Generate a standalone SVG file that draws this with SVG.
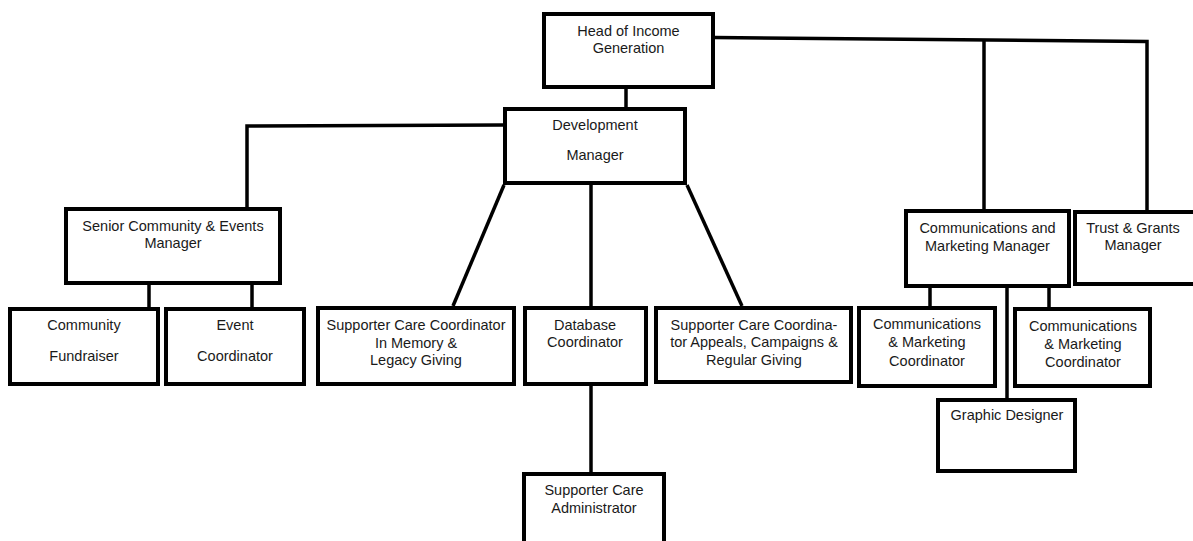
<svg xmlns="http://www.w3.org/2000/svg" width="1193" height="541" viewBox="0 0 1193 541">
<style>
.box{fill:#fff;stroke:#000;stroke-width:4}
.ln{fill:none;stroke:#000;stroke-width:3.5}
text{font-family:"Liberation Sans",Arial,sans-serif;font-size:14.5px;fill:#1a1a1a;text-anchor:middle}
</style>
<rect width="1193" height="541" fill="#fff"/>
<g id="connectors">
<path class="ln" d="M626,89 V107"/>
<path class="ln" d="M503,125 L247,126 V207"/>
<path class="ln" d="M715,37.5 L1147,41.5 V210"/>
<path class="ln" d="M984,40.5 V209"/>
<path class="ln" d="M149,285 V307 M252,285 V307"/>
<path class="ln" d="M504,185 L453,306"/>
<path class="ln" d="M591,185 V306"/>
<path class="ln" d="M687,185 L742,306"/>
<path class="ln" d="M591,386 V472"/>
<path class="ln" d="M930,288 V306 M1049,288 V307 M1007,288 V398"/>
</g>
<g id="head"><rect class="box" x="544" y="14" width="169" height="73"/><text x="628.5" y="36">Head of Income</text><text x="628.5" y="53">Generation</text></g>
<g id="dev"><rect class="box" x="505" y="109" width="180" height="74"/><text x="595" y="130">Development</text><text x="595" y="160">Manager</text></g>
<g id="senior"><rect class="box" x="66" y="209" width="214" height="74"/><text x="173" y="231">Senior Community &amp; Events</text><text x="173" y="248">Manager</text></g>
<g id="community"><rect class="box" x="10" y="309" width="148" height="75"/><text x="84" y="330">Community</text><text x="84" y="361">Fundraiser</text></g>
<g id="event"><rect class="box" x="166" y="309" width="138" height="75"/><text x="235" y="330">Event</text><text x="235" y="361">Coordinator</text></g>
<g id="sc-memory"><rect class="box" x="318" y="308" width="196" height="76"/><text x="416" y="330">Supporter Care Coordinator</text><text x="416" y="347.5">In Memory &amp;</text><text x="416" y="365">Legacy Giving</text></g>
<g id="database"><rect class="box" x="525" y="308" width="121" height="76"/><text x="585" y="330">Database</text><text x="585" y="347">Coordinator</text></g>
<g id="sc-appeals"><rect class="box" x="656" y="308" width="195" height="74"/><text x="754" y="330">Supporter Care Coordina-</text><text x="754" y="347">tor Appeals, Campaigns &amp;</text><text x="754" y="365">Regular Giving</text></g>
<g id="sc-admin"><rect class="box" x="524" y="474" width="140" height="80"/><text x="594" y="495">Supporter Care</text><text x="594" y="513">Administrator</text></g>
<g id="comms-mgr"><rect class="box" x="906" y="211" width="163" height="75"/><text x="987.5" y="233">Communications and</text><text x="987.5" y="251">Marketing Manager</text></g>
<g id="trust"><rect class="box" x="1075" y="212" width="125" height="72"/><text x="1133" y="233">Trust &amp; Grants</text><text x="1133" y="250">Manager</text></g>
<g id="cmc1"><rect class="box" x="859" y="308" width="136" height="78"/><text x="927" y="329">Communications</text><text x="927" y="347">&amp; Marketing</text><text x="927" y="365.5">Coordinator</text></g>
<g id="cmc2"><rect class="box" x="1015" y="309" width="135" height="77"/><text x="1083" y="331">Communications</text><text x="1083" y="349">&amp; Marketing</text><text x="1083" y="367">Coordinator</text></g>
<g id="graphic"><rect class="box" x="938" y="400" width="137" height="71"/><text x="1007" y="420">Graphic Designer</text></g>
</svg>
